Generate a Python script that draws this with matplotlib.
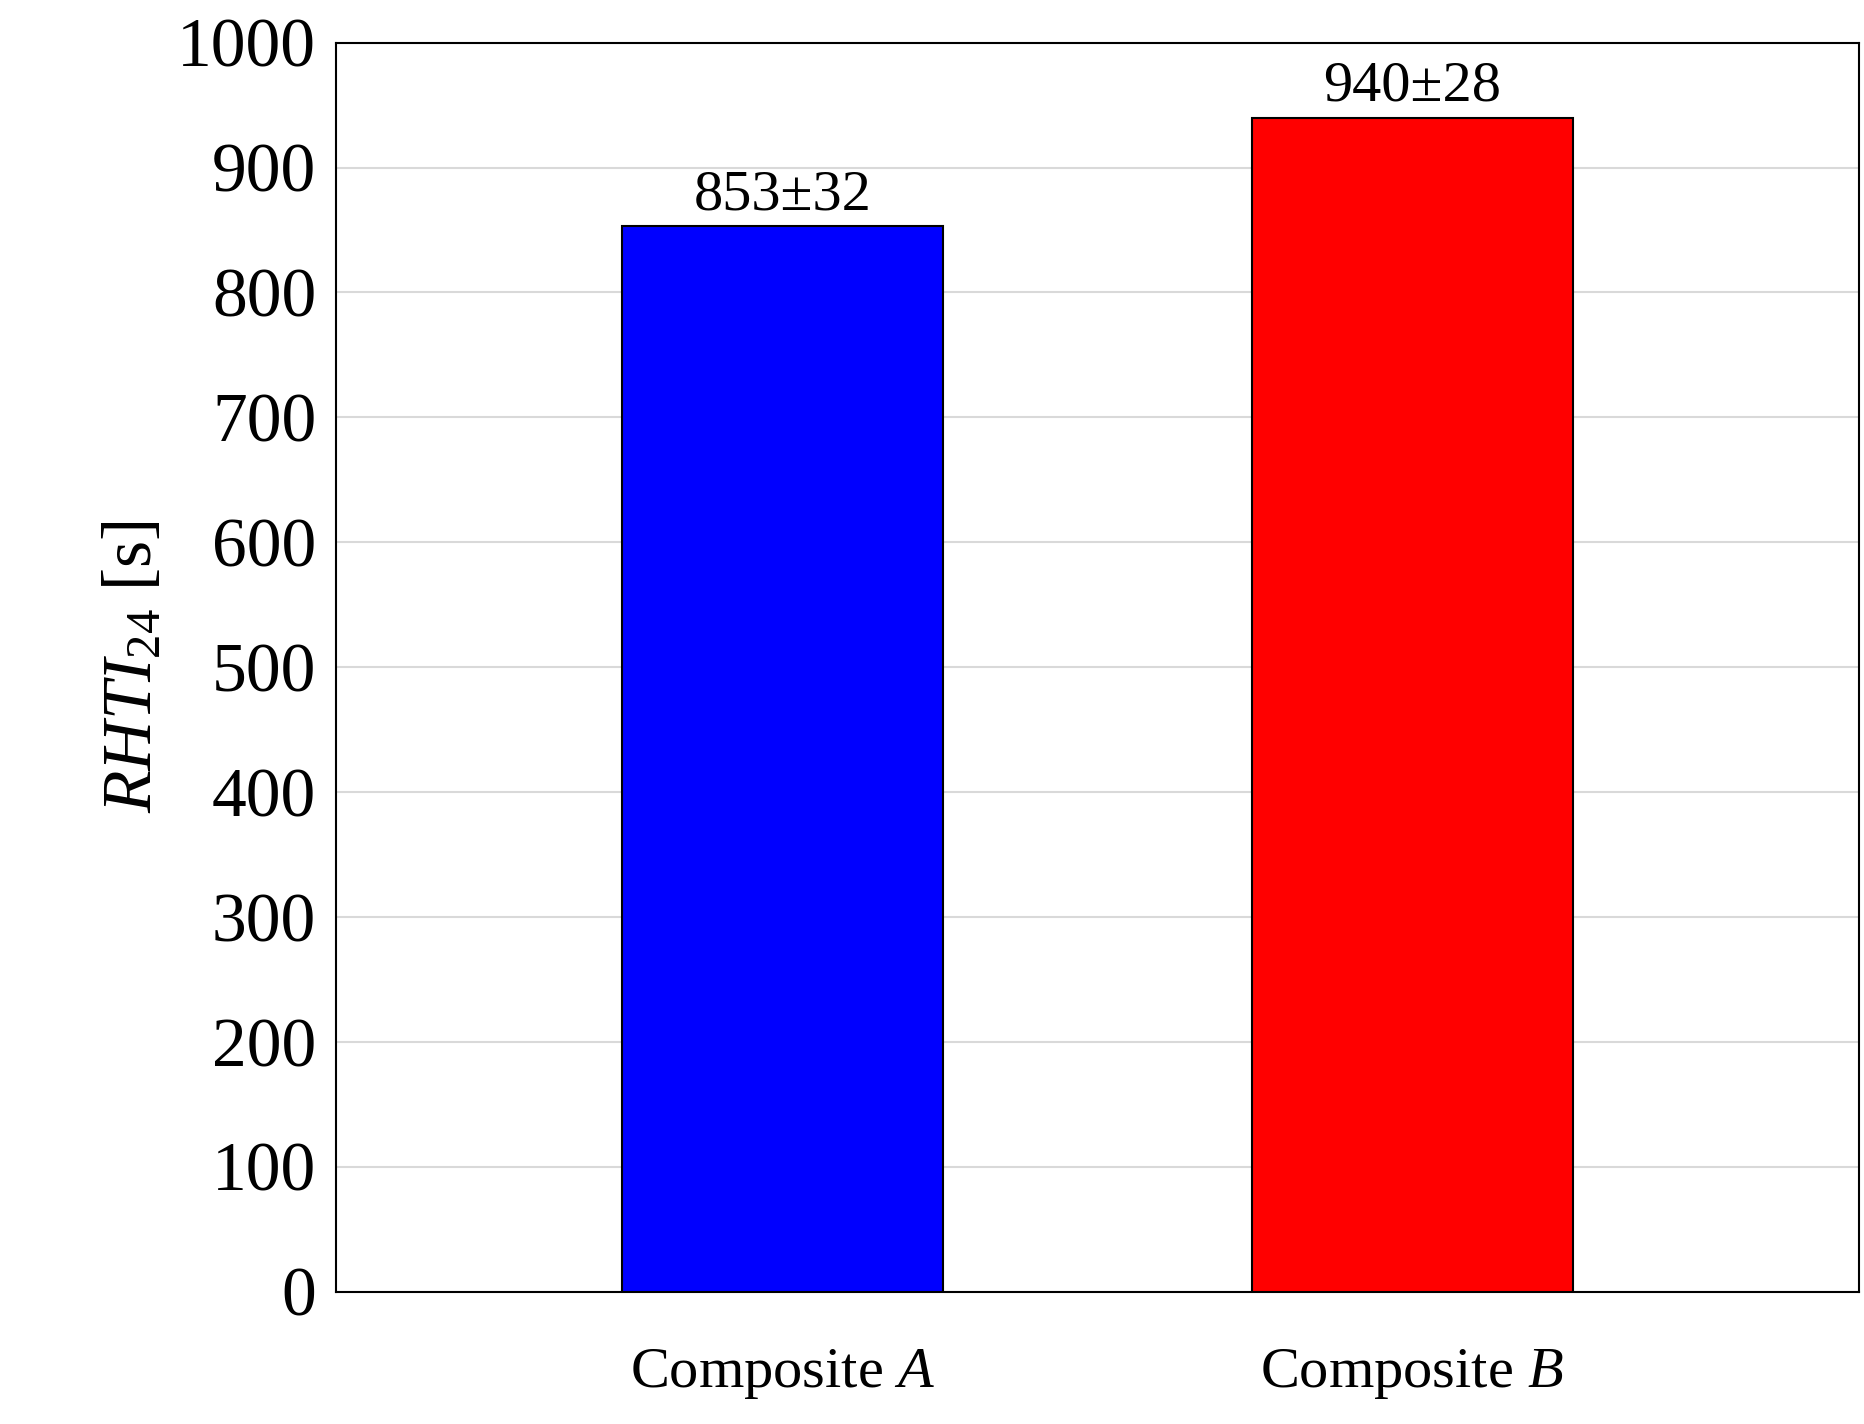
import numpy as np
import matplotlib.pyplot as plt

categories = ['Composite $\\mathit{A}$', 'Composite $\\mathit{B}$']
values = [853, 940]
errors = [32, 28]
colors = ['#0000ff', '#ff0000']

plt.rcParams['font.family'] = ['Liberation Serif', 'DejaVu Serif']
plt.rcParams['mathtext.fontset'] = 'custom'
plt.rcParams['mathtext.it'] = 'Liberation Serif:italic'
plt.rcParams['mathtext.rm'] = 'Liberation Serif'

fig = plt.figure(figsize=(18.65, 14.24), dpi=100)
ax = fig.add_axes([0.180, 0.093, 0.817, 0.877])

x = np.arange(len(values))
ax.bar(x, values, width=0.51, color=colors, edgecolor='black', linewidth=1.5, zorder=3)
for xi, v, e in zip(x, values, errors):
    ax.text(xi, v + 4, f'{v}±{e}', ha='center', va='bottom', fontsize=42)

ax.set_xlim(-0.71, 1.71)
ax.set_ylim(0, 1000)
ax.set_yticks(np.arange(0, 1001, 100))
ax.yaxis.grid(True, color='#d9d9d9', linewidth=1.5, zorder=0)
ax.set_xticks(x)
ax.set_xticklabels(categories, fontsize=42)
ax.tick_params(axis='x', length=0, pad=40)
ax.tick_params(axis='y', length=0, labelsize=50, pad=14)
ax.set_ylabel('$\\mathit{RHTI}_{24}$ [s]', fontsize=50, labelpad=8)
for s in ax.spines.values():
    s.set_linewidth(1.5)

fig.savefig('out.png', dpi=100)
